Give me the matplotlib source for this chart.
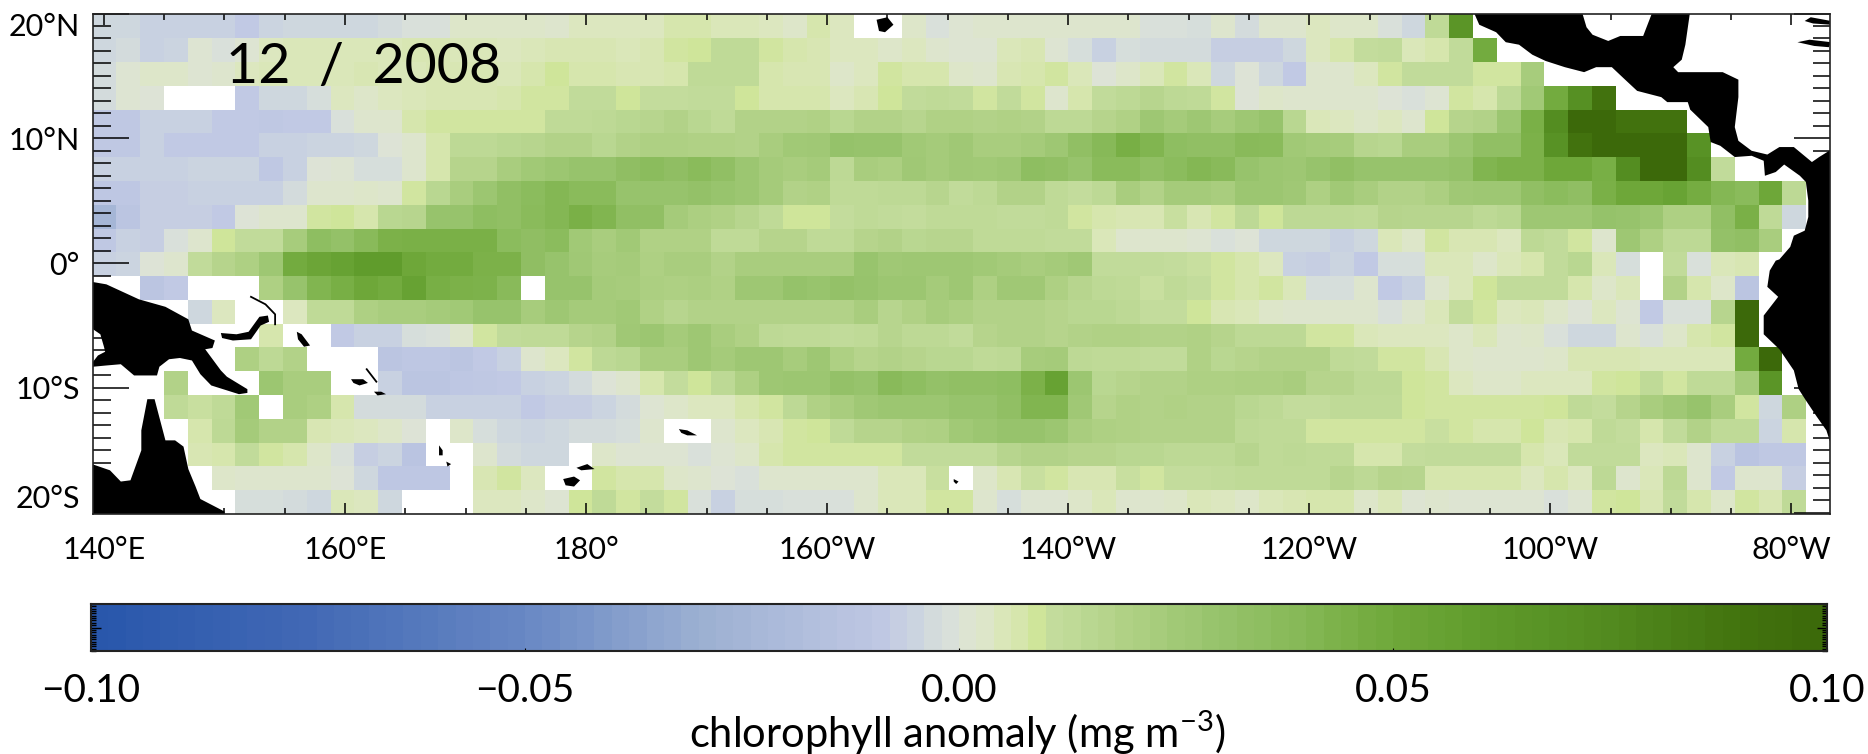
import matplotlib
matplotlib.use('Agg')
import matplotlib.pyplot as plt
import numpy as np
from matplotlib.colors import LinearSegmentedColormap, Normalize

plt.rcParams['font.family'] = ['Lato', 'Liberation Sans', 'DejaVu Sans']
plt.rcParams['mathtext.default'] = 'regular'

N = np.nan

# chlorophyll anomaly, in 0.001 mg m-3, north to south
row_00 = [-4,-4,-6,-6,-6,-6,-8,-5,-4,-4, -4,-4,-3,-1,-1,3,3,3,3,2, 4,4,4,4,7,7,5,5,4,3, 7,4,N,N,3,-1,1,2,2,2, 2,2,2,2,-1,-1,-2,2,-3,2, 2,4,3,3,-1,-4,13,65]
row_01 = [-4,-3,-6,-5,1,-1,1,4,5,5, 5,5,5,6,6,5,5,4,5,6, 6,6,5,6,8,9,13,13,8,7, 6,4,4,3,4,2,1,1,5,6, 1,-2,-6,-2,-3,-3,-3,-7,-7,-7, -4,4,7,11,12,5,7,12,48]
row_02 = [-3,1,3,3,1,2,4,5,5,5, 5,6,5,5,6,6,6,5,7,9, 7,7,6,6,7,13,13,13,7,6, 6,3,4,8,7,7,3,2,6,7, 8,5,0,3,5,8,5,-4,0,-4, -8,2,2,4,8,12,12,12,8,8, 23]
row_03 = [-3,1,0,N,N,N,-8,-4,-4,-2, 4,3,4,5,6,6,6,7,8,8, 12,12,9,11,11,12,12,9,7,7, 7,4,6,9,12,13,12,8,12,8, 2,7,12,14,16,14,13,8,0,3, 2,2,2,2,0,-1,1,8,7,14, 25,48,70,90]
row_04 = [-9,-9,-6,-6,-6,-8,-8,-9,-8,-8, -1,2,2,7,8,8,8,8,8,13, 13,14,15,16,18,15,13,18,18,18, 19,15,18,18,16,19,19,18,19,18, 14,14,17,19,27,24,27,23,27,30, 15,5,4,3,4,2,9,17,18,28, 45,72,100,100,90,90,90]
row_05 = [-9,-9,-6,-8,-8,-8,-8,-6,-6,-5, -5,-4,0,2,7,14,14,15,16,18, 18,15,18,20,20,19,19,18,22,25, 26,31,30,30,25,24,26,22,22,24, 27,33,39,46,42,35,33,33,38,37, 25,24,23,16,15,22,22,28,33,33, 44,68,90,100,100,100,100,68]
row_06 = [-6,-6,-6,-6,-5,-5,-5,-9,-6,0, 1,-2,-2,2,7,17,17,22,25,28, 30,30,34,36,34,37,33,28,24,22, 24,14,22,21,26,24,26,25,27,35, 33,30,37,37,33,36,40,38,30,28, 27,30,33,30,30,30,30,32,42,44, 44,50,50,46,72,100,100,72,12]
row_07 = [-10,-10,-7,-7,-6,-6,-6,-6,-3,2, 2,3,2,8,15,22,28,33,36,40, 37,37,30,30,30,32,29,28,24,18, 19,13,13,14,14,16,12,14,18,18, 13,11,14,22,18,24,24,22,28,28, 26,20,25,22,18,18,21,26,27,27, 33,36,34,45,50,50,54,47,40,37, 50,14]
row_08 = [-25,-11,-7,-7,-7,-8,0,2,2,8, 9,7,15,16,30,30,35,33,37,40, 45,42,33,33,24,21,19,16,13,9, 9,11,13,12,11,13,13,13,12,12, 13,8,7,6,6,10,6,8,14,9, 14,14,14,13,17,16,16,16,14,15, 27,27,27,31,30,28,20,20,33,45, 13,-4]
row_09 = [-9,-6,-7,-1,2,9,12,12,23,35, 32,38,44,45,45,45,45,36,34,36, 25,22,25,19,19,19,13,13,17,17, 13,13,17,18,15,16,16,13,13,13, 12,12,5,2,2,2,1,-1,0,-4, -4,-4,-6,-4,5,3,8,6,6,4, 14,12,8,2,27,20,14,14,32,33, 22]
row_10 = [-6,-5,0,2,12,17,20,27,48,52, 55,60,60,50,48,48,44,44,34,30, 26,23,24,20,22,22,18,22,22,22, 22,22,29,26,27,27,27,25,24,22, 24,26,12,12,12,11,10,8,7,4, -6,-7,-5,-8,-2,-2,5,5,3,5, 7,12,15,5,-2,N,12,-1,5,6]
row_11 = [N,N,-11,-8,N,N,N,20,30,42, 46,50,48,55,46,44,43,38,N,30, 30,24,23,21,20,21,19,27,27,31, 29,32,30,28,28,24,27,20,26,26, 20,16,14,13,10,13,11,8,7,8, 5,-2,-2,2,-8,-6,2,5,9,12, 12,12,7,3,5,N,18,7,3,-11]
row_12 = [N,N,N,N,-4,4,N,N,4,13, 13,20,22,22,24,25,30,30,23,27, 24,24,25,19,16,18,18,18,18,18, 18,18,22,16,19,23,21,18,18,18, 17,15,15,14,11,11,9,6,5,3, 2,2,2,2,-1,2,5,11,8,4, 5,3,0,4,1,-8,-1,-1,16,100]
row_13 = [N,N,N,N,N,N,N,7,N,N, -8,-6,-6,-2,-1,2,8,12,13,13, 17,18,26,28,24,27,22,19,14,13, 13,12,13,16,14,14,12,17,18,18, 17,18,19,19,18,18,19,17,14,14, 14,8,8,5,4,4,4,3,5,2, 3,-1,-4,-4,2,-1,3,7,8,100]
row_14 = [N,N,N,N,N,N,20,14,18,N, N,N,-11,-10,-10,-11,-8,-6,2,4, 8,14,15,22,22,27,24,27,27,23, 27,20,17,18,17,15,15,13,14,23, 24,14,13,13,12,12,19,15,17,18, 18,18,13,12,8,8,6,3,2,2, 2,3,6,6,6,5,5,5,5,48, 100]
row_15 = [N,N,N,18,N,N,N,28,22,22, N,N,-6,-11,-11,-10,-9,-8,-6,-5, -3,0,2,7,11,9,14,20,27,28, 28,32,30,38,35,32,33,33,35,44, 55,28,15,17,18,18,20,20,21,21, 22,17,17,14,14,9,8,4,3,3, 4,4,4,8,9,13,8,13,13,24, 65]
row_16 = [N,N,N,13,10,13,25,N,22,20, 7,-3,-3,-3,-6,-6,-6,-6,-8,-7, -7,-5,-3,1,3,4,4,7,8,14, 19,22,26,28,28,28,30,30,33,42, 42,26,17,19,18,19,18,18,15,14, 11,11,13,13,13,9,8,8,8,8, 8,9,13,11,17,22,26,30,22,8, -4,20]
row_17 = [N,N,N,N,7,14,24,18,18,6, 5,4,3,0,N,3,-2,-4,-5,-4, -3,-3,-2,2,N,N,2,4,6,8, 9,13,17,17,19,20,25,28,30,30, 28,22,20,19,18,18,18,18,14,13, 13,8,8,8,8,8,10,8,7,7, 9,6,7,13,11,7,12,18,13,13, -5,7]
row_18 = [N,N,N,N,6,7,12,8,7,3, -1,-7,-5,-12,N,N,2,-3,-4,-4, N,3,1,1,1,-1,1,3,7,8, 8,8,8,8,12,12,12,12,16,18, 18,17,17,15,15,14,14,14,16,13, 14,13,13,7,7,11,12,12,12,12, 7,5,12,12,12,4,5,2,-6,-12, -9,-9]
row_19 = [N,N,N,N,N,3,2,2,2,2, 0,-4,-10,-10,-10,N,6,8,4,N, N,8,7,7,3,2,0,-1,2,2, 2,2,2,5,5,10,N,3,6,10, 8,6,6,10,8,11,11,12,13,13, 13,13,16,14,17,16,7,7,7,7, 4,7,4,14,2,5,14,2,-8,2, 2,-7]
row_20 = [N,N,N,N,N,N,-2,-2,-3,-4, 5,4,-4,N,N,N,4,4,3,1, 9,13,8,11,8,-1,-6,-2,-2,-1, -1,-1,2,5,5,8,8,2,-2,1, 1,3,5,2,2,3,5,4,3,5, 6,7,7,3,5,1,2,1,1,1, 1,-1,1,8,9,6,12,7,3,8, 6,13]
chl_rows = [row_00, row_01, row_02, row_03, row_04, row_05, row_06, row_07, row_08, row_09, row_10,
            row_11, row_12, row_13, row_14, row_15, row_16, row_17, row_18, row_19, row_20]

# colour scale anchors, value in 0.001 mg m-3
cmap_vals = [-100, -75, -50, -30, -8, -4, 0, 4, 9, 10, 20, 30, 40, 50, 60, 75, 90, 100]
cmap_cols = ['#2856ab', '#4269b5', '#6888c4', '#9cb0d2', '#c1c9e4', '#cfd8de', '#dde3d8', '#dde7c2',
             '#cfe59a', '#c6dea0', '#aed083', '#97c36c', '#85b855', '#6fa83a', '#609c2c', '#528a1f',
             '#42730e', '#3c690a']

lon_ticks = [140, 160, 180, 200, 220, 240, 260, 280]
lon_labels = ['140°E', '160°E', '180°', '160°W', '140°W', '120°W', '100°W', '80°W']
lat_ticks = [-20, -10, 0, 10, 20]
lat_labels = ['20°S', '10°S', '0°', '10°N', '20°N']
cbar_ticks = [-0.10, -0.05, 0.00, 0.05, 0.10]
cbar_labels = ['\u22120.10', '\u22120.05', '0.00', '0.05', '0.10']

# coastlines (lon, lat)
new_guinea_lon = [139,140.2,142.9,145.1,147,147.3,149.2,149,148.4,149.7,150.2,151.9,151.9,151.2,148.9,148,147.3,146.3,145.4,144.6,144.4,142.5,141.4,140.2,139.1,139.1,139.5,140.1,140,139.7,139.1]
new_guinea_lat = [-1.5,-1.7,-2.9,-3.5,-4.5,-5.4,-6.2,-6.8,-6.9,-8.6,-9.1,-10.1,-10.4,-10.5,-9.8,-8.9,-7.8,-7.6,-7.7,-8.3,-9,-9,-8.1,-8.2,-8.3,-7.9,-7.4,-7.1,-6.7,-5.7,-5.3]
australia_lon = [139,140.5,141.4,142.2,143.1,143.1,143.6,144.2,145.1,145.9,146.6,147,147.6,148,150,150,139]
australia_lat = [-16.1,-16.6,-17.5,-17.4,-15,-13.4,-10.9,-10.9,-14.2,-14.2,-14.7,-16.5,-17.9,-18.9,-19.9,-20.2,-20.2]
new_britain_lon = [149.7,151,152,152.9,153.6,153.7,153,152.2,150.7,149.8]
new_britain_lat = [-5.6,-5.7,-5.5,-4.3,-4.2,-4.7,-5,-6.1,-6.2,-6]
bougainville_lon = [156,156.4,157.1,156.6,156.1]
bougainville_lat = [-5.5,-5.7,-6.6,-6.7,-6.1]
guadalcanal_lon = [160.5,161.5,161.9,161.2,160.7]
guadalcanal_lat = [-9.3,-9.3,-9.6,-9.8,-9.6]
makira_lon = [162.4,163,163.4,162.7]
makira_lat = [-10.3,-10.3,-10.5,-10.6]
vanuatu_n_lon = [167.8,168.1,168.1,167.8]
vanuatu_n_lat = [-14.6,-15,-15.4,-15.4]
vanuatu_s_lon = [168.4,168.8,168.5]
vanuatu_s_lat = [-15.9,-16.1,-16.3]
viti_levu_lon = [178.1,179,179.5,179,178.3]
viti_levu_lat = [-17.3,-17.1,-17.4,-17.9,-17.8]
vanua_levu_lon = [179.2,180.1,180.7,179.6]
vanua_levu_lat = [-16.4,-16.1,-16.5,-16.6]
hawaii_lon = [204.1,205,205.5,204.8,204.3]
hawaii_lat = [19.5,19.7,19.1,18.5,18.6]
samoa_lon = [187.7,188.4,189.2,188.4,187.9]
samoa_lat = [-13.3,-13.4,-13.8,-13.8,-13.6]
tahiti_lon = [210.5,210.9,210.7,210.5]
tahiti_lat = [-17.3,-17.5,-17.7,-17.5]
cuba_lon = [281.1,281.6,283.3,283.3,281.8]
cuba_lat = [19.4,19.7,19.4,19.1,19.2]
jamaica_lon = [280.5,281.5,283.3,283.1,281.9]
jamaica_lat = [17.7,17.9,17.7,17.3,17.4]
americas_lon = [253.6,254.1,255.5,256.3,257.4,258.5,259.6,261.2,262.8,263.8,265.1,266.2,267.2,269.2,269.7,271.4,271.6,273.1,273.3,274.1,275.3,276.7,277.7,277.8,278.7,279.4,280.7,281.2,281.4,281.4,281.1,280.2,279.9,279,278.7,278.2,278,278.9,277.7,277.7,279,280.2,280.6,281.2,282.1,282.9,283.3,283.3,282.3,281.7,280.7,280.2,279,278,276.7,275.6,275.3,275.6,275.6,274.3,270.6,270.2,270.9,271.2,271.6,268.5,267.7,265.8,264.8,263.5,263,262.6]
americas_lat = [20.2,19.1,18.5,17.7,17.5,16.7,16.2,15.7,15.3,15.7,15.7,14.7,13.8,13.3,12.9,12.9,12.3,10.9,9.7,9.4,8.5,8.6,8.2,7,7.3,7.9,7,6.5,5,3.7,2.6,2.2,1.3,0.3,0.2,-0.6,-1.9,-2.7,-4.2,-5.7,-6.9,-8.6,-10.1,-11,-12.3,-13.4,-14.6,9.1,8.5,8.1,8.9,9.3,9.3,8.7,9,9.8,10.9,13.3,14.7,15.3,15.3,15.7,16.3,17.5,20.2,20.2,18.2,18.2,17.8,18.3,18.9,20.2]
land_parts = [(new_guinea_lon, new_guinea_lat), (australia_lon, australia_lat), (new_britain_lon, new_britain_lat),
              (bougainville_lon, bougainville_lat), (guadalcanal_lon, guadalcanal_lat), (makira_lon, makira_lat),
              (vanuatu_n_lon, vanuatu_n_lat), (vanuatu_s_lon, vanuatu_s_lat), (viti_levu_lon, viti_levu_lat),
              (vanua_levu_lon, vanua_levu_lat), (hawaii_lon, hawaii_lat), (samoa_lon, samoa_lat),
              (tahiti_lon, tahiti_lat), (cuba_lon, cuba_lat), (jamaica_lon, jamaica_lat), (americas_lon, americas_lat)]
new_ireland_lon = [152.2,153.4,154.2,154.2]
new_ireland_lat = [-2.7,-3.3,-4.1,-4.9]
malaita_lon = [161.8,162.6]
malaita_lat = [-8.5,-9.5]

W, H = 1868, 754
LON_MIN, LON_MAX = 139.05, 283.2
LAT_MIN, LAT_MAX = -20.1, 19.92


def px_axes(fig, left, top, right, bottom):
    return fig.add_axes([left / W, 1 - bottom / H, (right - left) / W, (bottom - top) / H])


positions = [(v + 100) / 200 for v in cmap_vals]
cmap = LinearSegmentedColormap.from_list('chl', list(zip(positions, cmap_cols)), N=256)
norm = Normalize(-0.1, 0.1)

grid = np.array([r + [N] * (73 - len(r)) for r in chl_rows], dtype=float) / 1000.0
lon_edges = np.linspace(LON_MIN, LON_MAX, grid.shape[1] + 1)
lat_edges = np.linspace(LAT_MAX, LAT_MIN, grid.shape[0] + 1)

fig = plt.figure(figsize=(W / 100, H / 100), dpi=100, facecolor='white')
ax = px_axes(fig, 92.5, 13.5, 1830, 514)
ax.pcolormesh(lon_edges, lat_edges, grid, cmap=cmap, norm=norm, shading='flat', linewidth=0, antialiased=False)
for lons, lats in land_parts:
    ax.fill(lons, lats, color='black', lw=0, zorder=3)
ax.plot(new_ireland_lon, new_ireland_lat, color='black', lw=1.3, zorder=3)
ax.plot(malaita_lon, malaita_lat, color='black', lw=1.3, zorder=3)
ax.set_xlim(LON_MIN, LON_MAX)
ax.set_ylim(LAT_MIN, LAT_MAX)

ax.set_xticks(lon_ticks)
ax.set_xticklabels(lon_labels, fontsize=22)
ax.set_xticks(np.arange(140, 281, 5), minor=True)
ax.set_yticks(lat_ticks)
ax.set_yticklabels(lat_labels, fontsize=22)
ax.set_yticks(np.arange(-20, 21, 1), minor=True)
ax.tick_params(axis='x', which='major', direction='in', top=True, length=7.7, width=1.1, pad=16)
ax.tick_params(axis='x', which='minor', direction='in', top=True, length=4.3, width=1.1)
ax.tick_params(axis='y', which='major', direction='in', right=True, length=26, width=1.1, pad=9)
ax.tick_params(axis='y', which='minor', direction='in', right=True, length=12.6, width=1.1)
for lab, lat in zip(ax.get_yticklabels(), lat_ticks):
    if lat == -20:
        lab.set_va('bottom')
    elif lat == 20:
        lab.set_va('top')
for sp in ax.spines.values():
    sp.set_linewidth(1.2)
    sp.set_color('#222222')
    sp.set_zorder(5)
ax.set_axisbelow(False)

fig.text(226 / W, 1 - 67 / H, '12  /  2008', fontsize=40, color='black', va='center', ha='left')

# colour bar, drawn in steps like the original
cax = px_axes(fig, 91, 604, 1827, 651)
bar_vals = np.linspace(-0.1, 0.1, 101)
cax.pcolormesh(bar_vals, [0, 1], ((bar_vals[:-1] + bar_vals[1:]) / 2)[None, :], cmap=cmap, norm=norm,
               shading='flat', linewidth=0, antialiased=False)
cax.set_xlim(-0.1, 0.1)
cax.set_ylim(0, 1)
cax.set_xticks(cbar_ticks)
cax.set_xticklabels(cbar_labels, fontsize=28)
cax.set_yticks([0.5])
cax.set_yticklabels([])
cax.set_yticks(np.linspace(0, 1, 21), minor=True)
cax.tick_params(axis='x', direction='in', length=2, width=0.8, pad=16)
cax.tick_params(axis='y', which='major', direction='in', right=True, length=7, width=1)
cax.tick_params(axis='y', which='minor', direction='in', right=True, length=3.5, width=1)
for sp in cax.spines.values():
    sp.set_linewidth(1.5)
    sp.set_color('#222222')
fig.text(957 / W, 1 - 733 / H, 'chlorophyll anomaly (mg m$^{-3}$)', fontsize=30, color='black', ha='center', va='center')

fig.savefig('out.png', dpi=100)
